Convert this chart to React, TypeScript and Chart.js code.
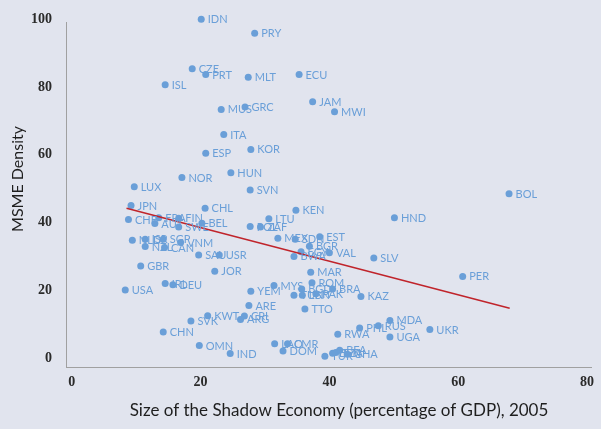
import React, { useEffect, useRef } from "react";
import { Chart, registerables } from "chart.js";

Chart.register(...registerables);

const countries = [
  "IDN", "PRY", "CZE", "PRT", "ISL", "MLT", "ECU", "MUS", "GRC", "JAM", "MWI",
  "ITA", "ESP", "KOR", "NOR", "HUN", "LUX", "SVN", "JPN", "CHL", "KEN", "CHE",
  "FRA", "FIN", "AUT", "SWE", "BEL", "LTU", "POL", "ZAF", "MEX", "SDN", "EST",
  "BGR", "EGY", "VAL", "BWA", "SLV", "HND", "BOL", "PER", "MAR", "ROM", "MYS",
  "BRA", "BGD", "TUN", "LBN", "PAK", "KAZ", "TTO", "NLD", "ISR", "NZL", "SGP",
  "CAN", "VNM", "SAU", "USR", "GBR", "JOR", "USA", "IRL", "DEU", "YEM", "ARE",
  "KWT", "SVK", "CRI", "ARG", "CHN", "OMN", "IND", "MDA", "RUS", "PHL", "UKR",
  "RWA", "UGA", "LAO", "CMR", "DOM", "TUR", "BEN", "TZA", "BFA", "GHA",
];

const shadowEconomy = [
  20.1, 28.4, 18.7, 20.8, 14.5, 27.4, 35.3, 23.2, 26.9, 37.4, 40.8,
  23.6, 20.8, 27.8, 17.1, 24.7, 9.7, 27.7, 9.2, 20.7, 34.8, 8.8,
  13.5, 16.6, 12.9, 16.6, 20.2, 30.6, 27.7, 29.3, 32.0, 34.7, 38.5,
  36.9, 35.6, 40.0, 34.5, 46.9, 50.1, 67.9, 60.7, 37.1, 37.3, 31.4,
  40.5, 35.7, 34.5, 35.8, 37.9, 44.9, 36.2, 9.4, 11.4, 11.4, 14.2,
  14.4, 16.9, 19.7, 22.9, 10.7, 22.2, 8.3, 14.5, 15.7, 27.8, 27.5,
  21.1, 18.5, 26.8, 26.2, 14.2, 19.8, 24.6, 49.4, 47.6, 44.7, 55.6,
  41.3, 49.4, 31.5, 33.5, 32.8, 39.3, 40.5, 41.0, 41.6, 42.8,
];

const msmeDensity = [
  100, 95.9, 85.4, 83.7, 80.7, 82.9, 83.7, 73.4, 74.1, 75.7, 72.7,
  66.0, 60.5, 61.6, 53.3, 54.7, 50.6, 49.6, 45.0, 44.2, 43.6, 40.9,
  41.4, 41.3, 39.7, 38.7, 39.8, 41.1, 38.8, 38.7, 35.4, 35.1, 35.8,
  33.0, 31.4, 31.1, 30.0, 29.5, 41.4, 48.5, 24.1, 25.3, 22.2, 21.4,
  20.4, 20.4, 18.5, 18.5, 19.0, 18.2, 14.5, 34.8, 35.1, 32.9, 35.1,
  32.6, 34.1, 30.4, 30.4, 27.2, 25.6, 20.1, 22.0, 21.6, 19.7, 15.5,
  12.5, 10.9, 12.4, 11.4, 7.7, 3.7, 1.3, 11.1, 9.5, 8.9, 8.4,
  7.0, 6.2, 4.2, 4.2, 2.1, 0.5, 1.4, 1.6, 2.3, 1.1,
];

const trendX = [8.5, 68.0];
const trendY = [44.2, 14.7];

const xTicks = [0, 20, 40, 60, 80];
const yTicks = [0, 20, 40, 60, 80, 100];

const xTitle = "Size of the Shadow Economy (percentage of GDP), 2005";
const yTitle = "MSME Density";

const BG = "#e1e4ee";
const DOT = "#6a9fd8";

const bgPlugin = {
  id: "bg",
  beforeDraw(chart: any) {
    const ctx = chart.ctx;
    ctx.save();
    ctx.fillStyle = BG;
    ctx.fillRect(0, 0, chart.width, chart.height);
    ctx.restore();
  },
};

const labelPlugin = {
  id: "pointLabels",
  afterDatasetsDraw(chart: any) {
    const ctx = chart.ctx;
    const meta = chart.getDatasetMeta(1);
    ctx.save();
    ctx.font = '11px "Lato"';
    ctx.fillStyle = DOT;
    ctx.textBaseline = "middle";
    ctx.textAlign = "left";
    meta.data.forEach((el: any, i: number) => {
      ctx.fillText(countries[i], el.x + 6.5, el.y + 0.5);
    });
    ctx.restore();
  },
};

const titlePlugin = {
  id: "axisTitles",
  afterDraw(chart: any) {
    const ctx = chart.ctx;
    ctx.save();
    ctx.fillStyle = "#1e1e1e";
    ctx.textAlign = "center";
    ctx.textBaseline = "middle";
    ctx.font = '17px "Lato"';
    ctx.fillText(xTitle, 339, 411);
    ctx.font = '16px "Lato"';
    ctx.translate(18, 179);
    ctx.rotate(-Math.PI / 2);
    ctx.fillText(yTitle, 0, 0);
    ctx.restore();
  },
};

export default function App() {
  const ref = useRef<HTMLCanvasElement | null>(null);

  useEffect(() => {
    if (!ref.current) return;
    const chart = new Chart(ref.current, {
      type: "scatter",
      data: {
        datasets: [
          {
            type: "line",
            data: trendX.map((x, i) => ({ x, y: trendY[i] })),
            borderColor: "#c0242b",
            borderWidth: 1.5,
            pointRadius: 0,
            fill: false,
            clip: false,
          } as any,
          {
            type: "scatter",
            data: shadowEconomy.map((x, i) => ({ x, y: msmeDensity[i] })),
            backgroundColor: DOT,
            borderColor: DOT,
            borderWidth: 0,
            pointRadius: 3.5,
            clip: false,
          } as any,
        ],
      },
      options: {
        responsive: false,
        maintainAspectRatio: false,
        animation: false,
        layout: { padding: { top: 3.6, right: -10.8, left: 0, bottom: 0 } },
        plugins: {
          legend: { display: false },
          tooltip: { enabled: false },
        },
        scales: {
          x: {
            type: "linear",
            min: -0.9,
            max: 80.7,
            afterBuildTicks: (axis: any) => {
              axis.ticks = xTicks.map((v) => ({ value: v }));
            },
            afterFit: (s: any) => {
              s.height = 62;
            },
            grid: { display: false, drawTicks: false },
            border: { display: true, color: "#a0a0a0", width: 1 },
            ticks: {
              padding: 7,
              color: "#2a2a2a",
              font: { family: '"Liberation Serif"', size: 14, weight: "bold" },
            },
          },
          y: {
            type: "linear",
            min: -2.65,
            max: 99.1,
            afterBuildTicks: (axis: any) => {
              axis.ticks = yTicks.map((v) => ({ value: v }));
            },
            afterFit: (s: any) => {
              s.width = 66;
            },
            grid: { display: false, drawTicks: false },
            border: { display: true, color: "#a0a0a0", width: 1 },
            ticks: {
              padding: 14,
              color: "#2a2a2a",
              font: { family: '"Liberation Serif"', size: 14, weight: "bold" },
            },
          },
        },
      },
      plugins: [bgPlugin, labelPlugin, titlePlugin],
    });
    return () => chart.destroy();
  }, []);

  return (
    <div style={{ position: "fixed", left: 0, top: 0, width: 601, height: 429, background: BG }}>
      <canvas ref={ref} width={601} height={429} style={{ display: "block" }} />
    </div>
  );
}
